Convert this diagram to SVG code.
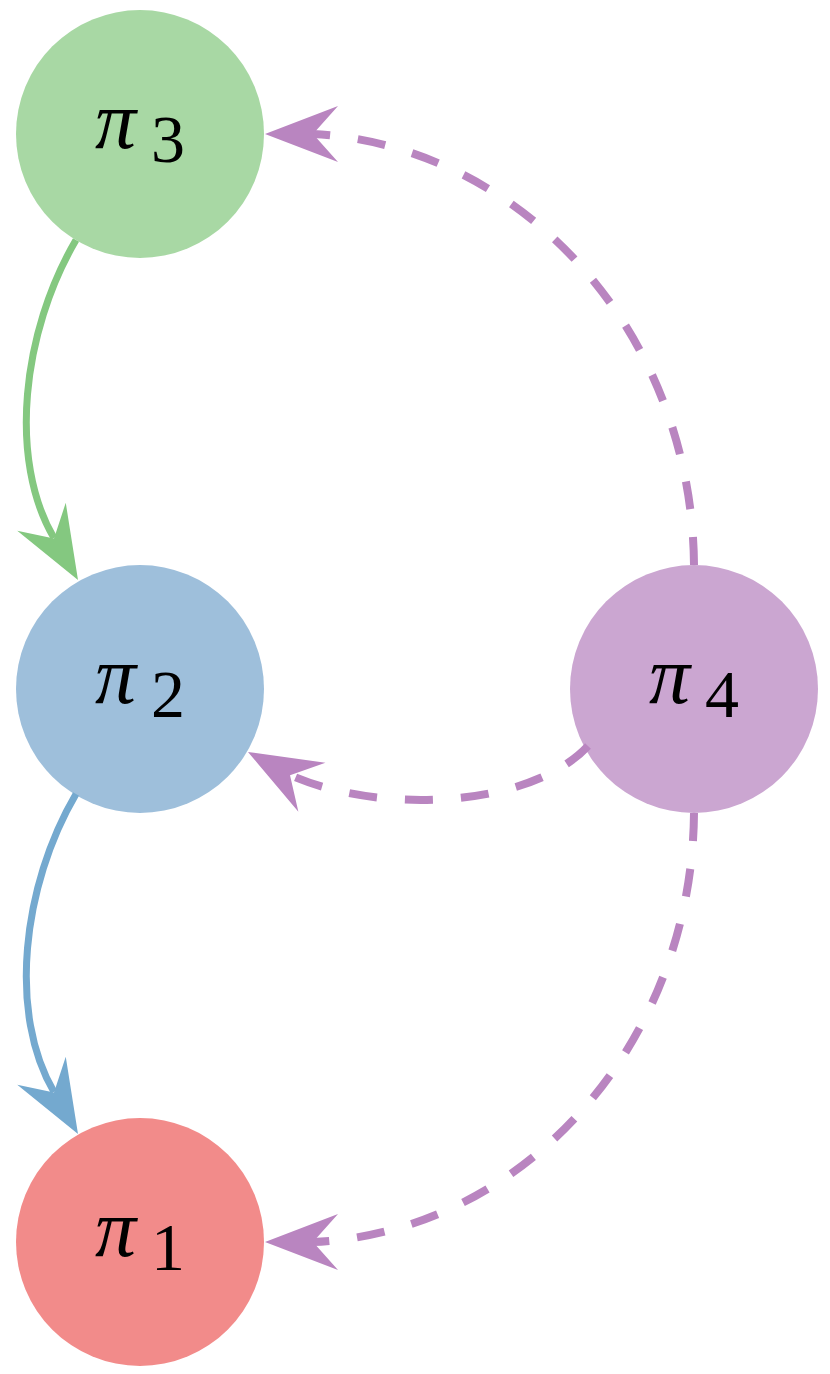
<svg xmlns="http://www.w3.org/2000/svg" xmlns:xlink="http://www.w3.org/1999/xlink" width="830" height="1374" viewBox="0 0 830 1374">
<style>
.lbl{font-family:"Liberation Serif","DejaVu Serif",serif;fill:#000}
.pi{font-style:italic;font-size:82px}
.sub{font-size:68px}
.dash{fill:none;stroke:#b985c0;stroke-width:8;stroke-dasharray:28 28}
.solid{fill:none;stroke-width:7}
</style>
<defs>
<path id="ah" d="M0,0 L-73,-28 L-48,0 L-73,28 Z"/>
</defs>
<rect width="830" height="1374" fill="#fff"/>
<g id="n3"><circle cx="140" cy="134" r="124" fill="#a8d8a4"/><text class="lbl pi" x="95" y="148">π</text><text class="lbl sub" x="151" y="162">3</text></g>
<g id="n2"><circle cx="140" cy="689" r="124" fill="#9ebfdb"/><text class="lbl pi" x="95" y="703">π</text><text class="lbl sub" x="151" y="717">2</text></g>
<g id="n1"><circle cx="140" cy="1242" r="124" fill="#f28b8a"/><text class="lbl pi" x="95" y="1256">π</text><text class="lbl sub" x="151" y="1270">1</text></g>
<g id="n4"><circle cx="694" cy="689" r="124" fill="#cba6d1"/><text class="lbl pi" x="649" y="703">π</text><text class="lbl sub" x="705" y="717">4</text></g>
<g id="edges">
<path class="solid" stroke="#84c880" d="M76,240 C22,332 8,460 54,538"/>
<use href="#ah" fill="#84c880" transform="translate(78,580) rotate(60)"/>
<path class="solid" stroke="#74a9cf" d="M76,794 C22,886 8,1014 54,1092"/>
<use href="#ah" fill="#74a9cf" transform="translate(78,1134) rotate(60)"/>
<path class="dash" d="M694,565 C692,330 520,145 313,134"/>
<use href="#ah" fill="#b985c0" transform="translate(265,134) rotate(180)"/>
<path class="dash" d="M588,746 C530,808 380,815 290,775"/>
<use href="#ah" fill="#b985c0" transform="translate(248,752) rotate(208.9)"/>
<path class="dash" d="M694,813 C692,1048 520,1233 313,1242"/>
<use href="#ah" fill="#b985c0" transform="translate(265,1242) rotate(180)"/>
</g>
</svg>
